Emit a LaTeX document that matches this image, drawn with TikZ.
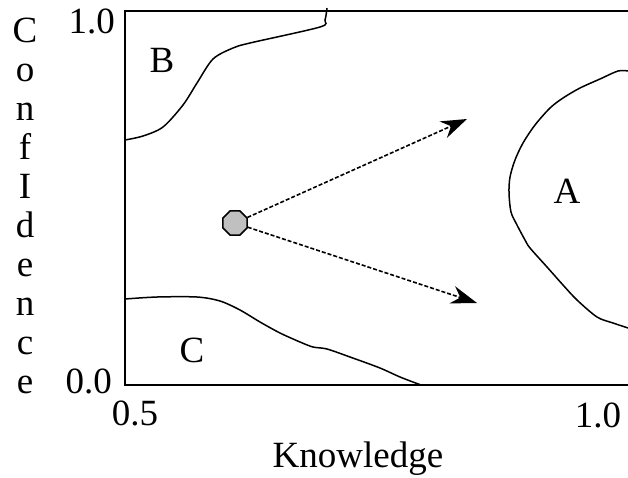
\documentclass[tikz,border=0pt]{standalone}
\usepackage{fontspec}
\setmainfont{Liberation Serif}
\usetikzlibrary{arrows.meta,shapes.geometric}
\begin{document}
\begin{tikzpicture}[x=1pt,y=-1pt,
  lbl/.style={font=\fontsize{37}{39}\selectfont, inner sep=0pt},
  axis/.style={line width=2pt},
  contour/.style={line width=1.5pt},
  move/.style={line width=1.6pt, dash pattern=on 4pt off 2pt, -{Stealth[length=26pt,width=18pt]}},
  state/.style={regular polygon, regular polygon sides=8, draw, line width=1.5pt, fill={rgb,255:red,192;green,192;blue,192}, minimum size=26pt, inner sep=0pt}]
\useasboundingbox (0,0) rectangle (628,477);
% axes
\coordinate (tr) at (628,11);
\coordinate (tl) at (125,11);
\coordinate (bl) at (125,385);
\coordinate (br) at (628,385);
\draw[axis] (tr) -- (tl) -- (bl) -- (br);
% contour B
\draw[contour] plot[smooth, tension=0.5] coordinates {(125,140) (143,136) (163,127) (183,105) (197,83) (213,59) (233,48) (250,43) (320,27) (325,20) (327,8)};
% contour C
\draw[contour] plot[smooth, tension=0.5] coordinates {(125,299) (157,297) (197,297) (220,301) (240,310) (260,322) (280,333) (300,342) (313,347) (327,349) (350,357) (380,368) (400,377) (421,385)};
% contour A
\draw[contour] plot[smooth, tension=0.5] coordinates {(628,71) (618,71) (600,79) (580,88) (563,98) (550,108) (535,125) (523,143) (515,160) (510,177) (509,193) (511,212) (517,225) (525,240) (530,248) (547,267) (563,285) (577,300) (597,317) (613,323) (628,328)};
% region labels
\node[lbl, anchor=base] (B) at (162,72) {B};
\node[lbl, anchor=base] (C) at (192,362) {C};
\node[lbl, anchor=base] (A) at (567,203) {A};
% tick labels
\node[lbl, anchor=base east] (y1) at (115,33) {1.0};
\node[lbl, anchor=base east] (y0) at (112,393) {0.0};
\node[lbl, anchor=base] (x0) at (135,425) {0.5};
\node[lbl, anchor=base] (x1) at (598,427) {1.0};
% axis titles
\node[lbl, anchor=base] (xlabel) at (358,467) {Knowledge};
\node[lbl, anchor=base, align=center] (ylabel) at (25,393) {C\\o\\n\\f\\I\\d\\e\\n\\c\\e};
% state and moves
\node[state] (dot) at (235,223) {};
\coordinate (up) at (467,119);
\coordinate (down) at (477,303);
\draw[move] (dot) -- (up);
\draw[move] (dot) -- (down);
\end{tikzpicture}
\end{document}
